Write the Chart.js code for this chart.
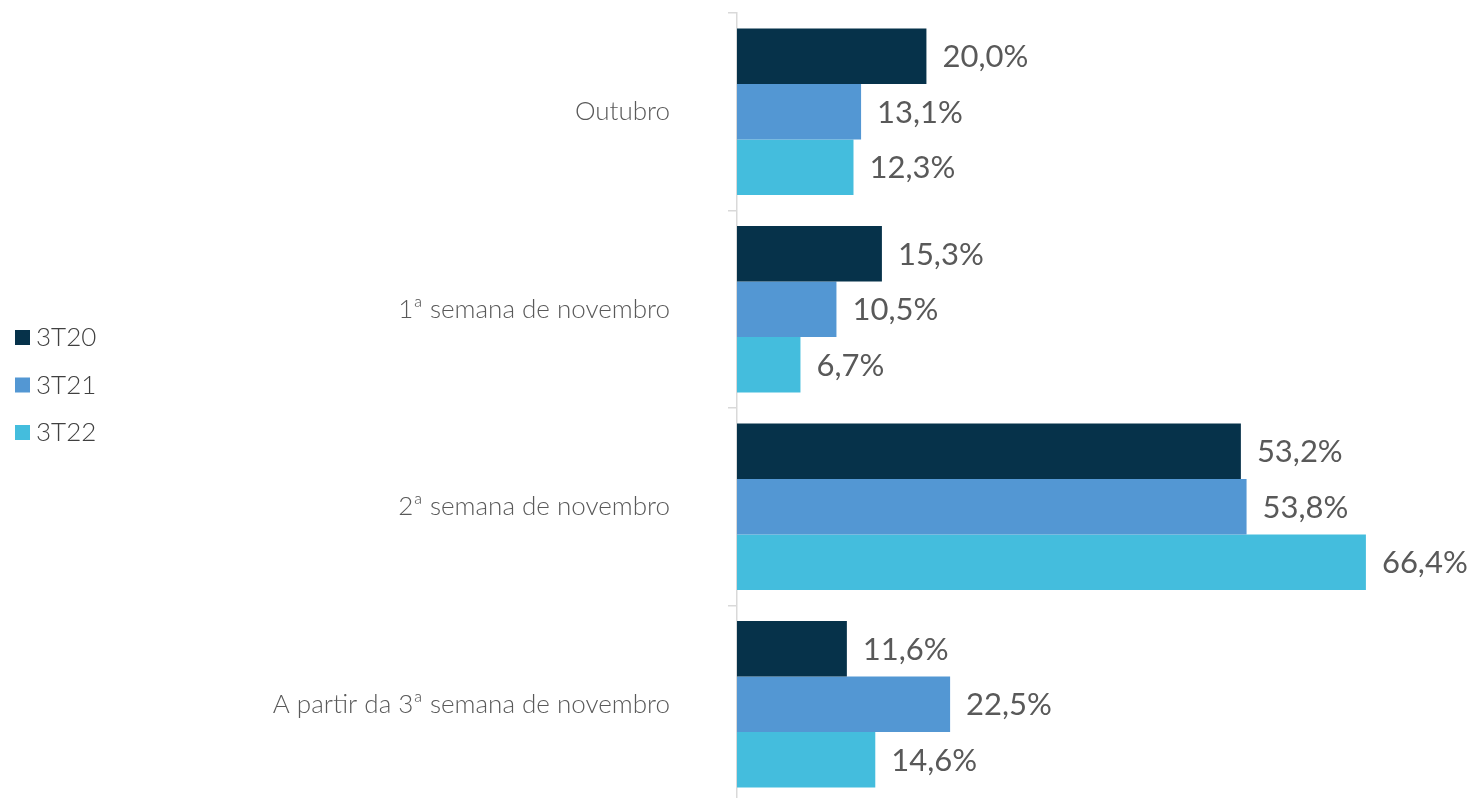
<!DOCTYPE html>
<html>
<head>
<meta charset="utf-8">
<script src="https://cdn.jsdelivr.net/npm/chart.js@4.4.0/dist/chart.umd.min.js"></script>
<style>
html,body{margin:0;padding:0;background:#fff;overflow:hidden;}
#wrap{width:1475px;height:798px;overflow:hidden;position:relative;}
canvas{display:block;}
</style>
</head>
<body>
<div id="wrap"><canvas id="c" width="1475" height="803"></canvas></div>
<script>
const categories = ["Outubro", "1ª semana de novembro", "2ª semana de novembro", "A partir da 3ª semana de novembro"];
const seriesNames = ["3T20", "3T21", "3T22"];
const values3T20 = [20.0, 15.3, 53.2, 11.6];
const values3T21 = [13.1, 10.5, 53.8, 22.5];
const values3T22 = [12.3, 6.7, 66.4, 14.6];
const colors = ["#06324a", "#5397d3", "#44bddd"];

const fmt = v => v.toFixed(1).replace('.', ',') + '%';

const dataLabels = {
  id: 'dataLabels',
  afterDatasetsDraw(chart) {
    const ctx = chart.ctx;
    ctx.save();
    ctx.font = '400 31px Lato, "Open Sans", sans-serif';
    ctx.fillStyle = '#595959';
    ctx.textAlign = 'left';
    ctx.textBaseline = 'middle';
    chart.data.datasets.forEach((ds, i) => {
      const meta = chart.getDatasetMeta(i);
      meta.data.forEach((bar, j) => {
        ctx.fillText(fmt(ds.data[j]), bar.x + 16, bar.y + 1);
      });
    });
    ctx.restore();
  }
};

const customLegend = {
  id: 'customLegend',
  afterDraw(chart) {
    const ctx = chart.ctx;
    ctx.save();
    ctx.font = '300 26px Lato, "Open Sans", sans-serif';
    ctx.textBaseline = 'middle';
    ctx.textAlign = 'left';
    chart.data.datasets.forEach((ds, i) => {
      const cy = 337 + i * 47.5;
      ctx.fillStyle = ds.backgroundColor;
      ctx.fillRect(15, cy - 7, 15, 15);
      ctx.fillStyle = '#404040';
      ctx.fillText(ds.label, 36, cy + 1);
    });
    ctx.restore();
  }
};

new Chart(document.getElementById('c'), {
  type: 'bar',
  data: {
    labels: categories,
    datasets: [
      { label: seriesNames[0], data: values3T20, backgroundColor: colors[0] },
      { label: seriesNames[1], data: values3T21, backgroundColor: colors[1] },
      { label: seriesNames[2], data: values3T22, backgroundColor: colors[2] }
    ]
  },
  options: {
    indexAxis: 'y',
    responsive: false,
    animation: false,
    devicePixelRatio: 1,
    categoryPercentage: 0.843,
    barPercentage: 1,
    layout: { padding: { top: 13, right: 75, bottom: 0, left: 0 } },
    plugins: { legend: { display: false }, tooltip: { enabled: false } },
    scales: {
      x: { display: false, min: 0, max: 70 },
      y: {
        afterFit(scale) { scale.width = 737; scale.paddingTop = 0; scale.paddingBottom = 0; },
        border: { display: true, color: '#d9d9d9', width: 1.5 },
        grid: { offset: true, drawOnChartArea: false, tickLength: 9, color: '#d9d9d9', lineWidth: 1.5 },
        ticks: {
          padding: 58,
          color: '#595959',
          font: { family: 'Lato, "Open Sans", sans-serif', size: 26, weight: '300' }
        }
      }
    }
  },
  plugins: [dataLabels, customLegend]
});
</script>
</body>
</html>
